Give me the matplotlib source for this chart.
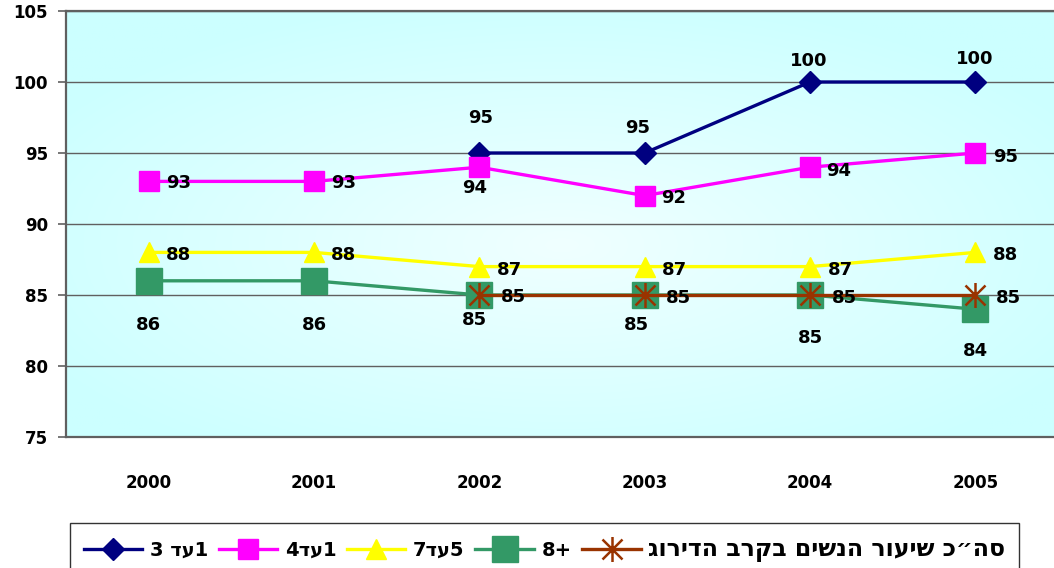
import numpy as np
import matplotlib.pyplot as plt
from matplotlib.path import Path

plt.rcParams['font.family'] = ['DejaVu Sans']

years = ['2000', '2001', '2002', '2003', '2004', '2005']

# series values (None = no value that year)
s_1to3 = [None, None, 95, 95, 100, 100]
s_1to4 = [93, 93, 94, 92, 94, 95]
s_5to7 = [88, 88, 87, 87, 87, 88]
s_8plus = [86, 86, 85, 85, 85, 84]
s_total = [None, None, 85, 85, 85, 85]

# legend labels (logical order, reversed for display since no bidi)
labels = ['1עד 3', '1עד4', '5עד7', '+8', 'סה״כ שיעור הנשים בקרב הדירוג']

# data label offsets in pixels (dx, dy with y down)
off_1to3 = [None, None, (1, -35), (-7, -25), (-1, -21), (-1, -23)]
off_1to4 = [(30, 2), (30, 2), (-5, 21), (29, 2), (29, 4), (30, 4)]
off_5to7 = [(30, 3)] * 6
off_8plus = [(0, 44), (0, 44), (-5, 25), (-8, 30), (0, 43), (0, 42)]
off_total = [None, None, (34, 2), (34, 3), (34, 3), (33, 3)]

star = Path([(0, -1), (0, 1), (-0.8, -0.8), (0.8, 0.8), (-0.8, 0.8), (0.8, -0.8)],
            [Path.MOVETO, Path.LINETO, Path.MOVETO, Path.LINETO, Path.MOVETO, Path.LINETO])

series = [
    (s_1to3, off_1to3, dict(color='#000080', marker='D', ms=11, lw=2.4)),
    (s_1to4, off_1to4, dict(color='#FF00FF', marker='s', ms=14, lw=2.4)),
    (s_5to7, off_5to7, dict(color='#FFFF00', marker='^', ms=15, lw=2.4)),
    (s_8plus, off_8plus, dict(color='#339966', marker='s', ms=19, lw=2.4)),
    (s_total, off_total, dict(color='#993300', marker=star, ms=18, lw=2.4,
                              mew=1.8, mfc='none', mec='#993300')),
]

fig = plt.figure(figsize=(10.54, 5.68), dpi=100)
ax = fig.add_axes([66 / 1054, 1 - 437 / 568, 992 / 1054, 426 / 568])

# background gradient of plot area
ny, nx = 200, 400
yy, xx = np.mgrid[0:1:ny * 1j, 0:1:nx * 1j]
r = np.sqrt(((xx - 0.5) / 0.6) ** 2 + ((yy - 0.55) / 0.6) ** 2)
f = np.clip(1 - r, 0, 1)
c0 = np.array([204, 255, 255]) / 255
c1 = np.array([240, 255, 255]) / 255
img = c0[None, None, :] + (c1 - c0)[None, None, :] * f[:, :, None]
ax.imshow(img, extent=[0, 1, 0, 1], transform=ax.transAxes, aspect='auto', zorder=0)

x = np.arange(len(years))
for vals, offs, style in series:
    v = np.array([np.nan if a is None else a for a in vals], dtype=float)
    ax.plot(x, v, zorder=3, clip_on=False, **style)
    for i, a in enumerate(vals):
        if a is None:
            continue
        dx, dy = offs[i]
        ax.annotate(str(a), (x[i], a), xytext=(dx, -dy), textcoords='offset pixels',
                    ha='center', va='center', fontsize=13, fontweight='bold', zorder=5)

ax.set_xlim(-0.5, 5.5)
ax.set_ylim(75, 105)
ax.set_yticks(range(75, 106, 5))
ax.set_xticks(x)
ax.set_xticklabels(years)
ax.grid(axis='y', color='#606060', lw=1, zorder=1)
ax.tick_params(axis='y', length=6, width=1.2, color='#606060', pad=7, labelsize=12)
ax.tick_params(axis='x', length=0, pad=27, labelsize=12)
for lab in ax.get_xticklabels() + ax.get_yticklabels():
    lab.set_fontweight('bold')
for side in ['left', 'top', 'bottom']:
    ax.spines[side].set_color('#606060')
    ax.spines[side].set_linewidth(1.6)
ax.spines['right'].set_visible(False)

handles = ax.get_lines()
leg = fig.legend(handles, [t[::-1] for t in labels], loc='upper left', ncol=5,
                 bbox_to_anchor=(70 / 1054, 1 - 523 / 568), borderaxespad=0,
                 frameon=True, fancybox=False, edgecolor='black',
                 handlelength=3.0, columnspacing=0.55, handletextpad=0.4,
                 borderpad=0.7, prop=dict(size=14, weight='bold'))
leg.get_texts()[-1].set_fontsize(17)
leg.get_frame().set_linewidth(1.0)

fig.savefig('out.png', dpi=100)
